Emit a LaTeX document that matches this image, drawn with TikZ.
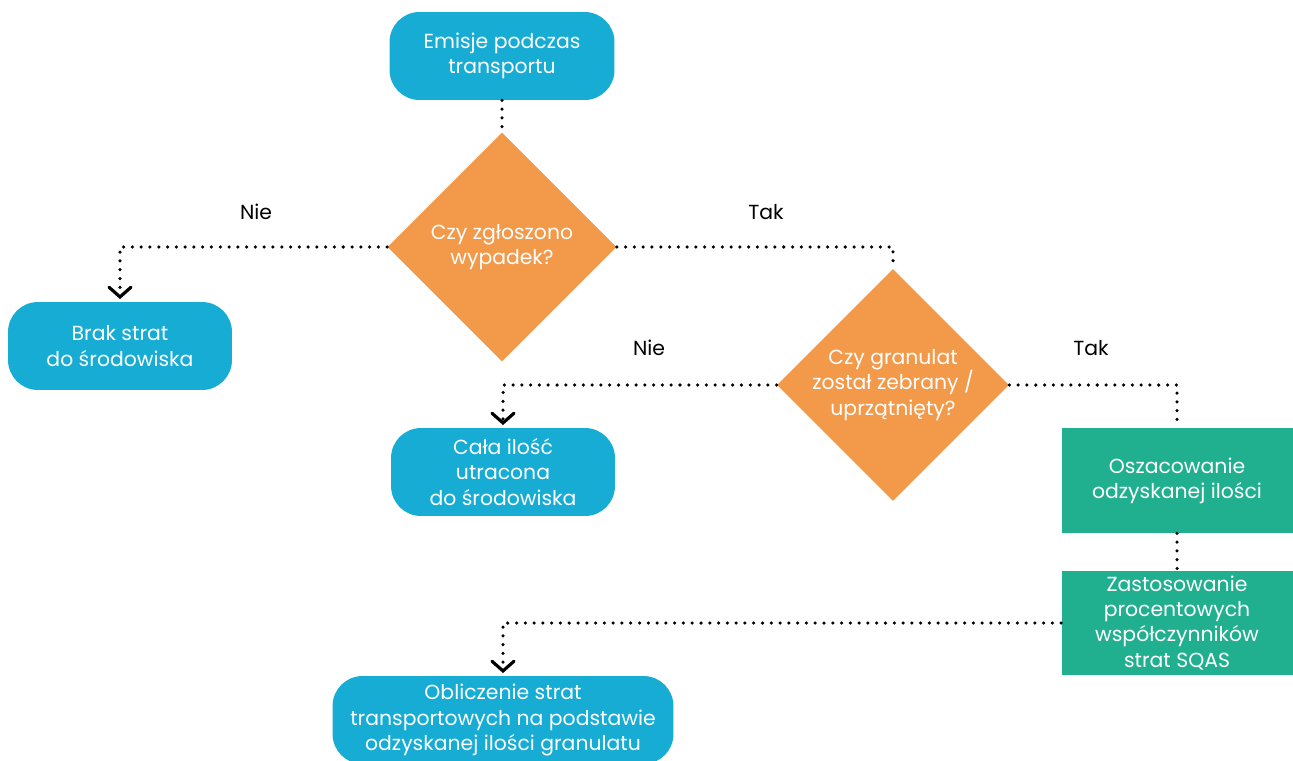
\documentclass[tikz,border=0pt]{standalone}
\usepackage{fontspec}
\setmainfont{Poppins}
\usepackage{xcolor}
\usetikzlibrary{arrows.meta, positioning, shapes.geometric}

\definecolor{boxblue}{RGB}{22,172,212}
\definecolor{decorange}{RGB}{242,153,74}
\definecolor{stepgreen}{RGB}{33,176,143}

\begin{document}
\begin{tikzpicture}[
  x=0.02cm, y=-0.02cm,
  endbox/.style={rectangle, rounded corners=0.6cm, fill=boxblue, text=white, align=center, minimum width=4.5cm, minimum height=1.76cm, inner sep=2pt, font=\fontsize{11.6}{14.3}\selectfont},
  question/.style={diamond, aspect=1, fill=decorange, text=white, align=center, minimum width=4.58cm, minimum height=4.58cm, inner sep=0pt, font=\fontsize{11.6}{14.3}\selectfont},
  task/.style={rectangle, fill=stepgreen, text=white, align=center, minimum width=4.62cm, minimum height=2.1cm, inner sep=2pt, font=\fontsize{11.6}{14.3}\selectfont},
  answer/.style={font=\fontsize{11.6}{14.3}\selectfont, text=black},
  flow/.style={black, line width=2pt, dash pattern=on 0pt off 5pt, line cap=round},
  flowarr/.style={flow, -{Straight Barb[length=5.5pt, width=12.5pt, line width=1.8pt, line cap=round]}, shorten >=1.5pt}
]
\useasboundingbox (0,0) rectangle (1293,760);
\clip (0,0) rectangle (1293,760);

%  : -- Start  : --
\node[endbox] (emisje) at (502,56) {Emisje podczas\\transportu};

%  : -- First question  : --
\node[question] (q1) at (502,247) {Czy zgłoszono\\wypadek?};
\node[endbox, minimum width=4.48cm] (brak) at (120,346) {Brak strat\\do środowiska};
\node[answer] (nie1) at (256,212) {Nie};
\node[answer] (tak1) at (766,212) {Tak};

%  : -- Second question  : --
\node[question, minimum width=4.58cm, minimum height=4.52cm] (q2) at (893,385) {Czy granulat\\został zebrany /\\uprzątnięty?};
\node[endbox, minimum width=4.48cm] (cala) at (503,472) {Cała ilość\\utracona\\do środowiska};
\node[answer] (nie2) at (649,348) {Nie};
\node[answer] (tak2) at (1091,348) {Tak};

%  : -- Recovered amount  : --
\node[task] (oszac) at (1177,480.5) {Oszacowanie\\odzyskanej ilości};
\node[task] (zastos) at (1177,623) {Zastosowanie\\procentowych\\współczynników\\strat SQAS};
\node[endbox, minimum width=6.82cm] (oblicz) at (503,720) {Obliczenie strat\\transportowych na podstawie\\odzyskanej ilości granulatu};

%  : -- Connectors  : --
\draw[flow] (emisje.south) -- (q1.north);
\draw[flowarr] (q1.west) -| (brak.north);
\draw[flow] (q1.east) -| (q2.north);
\draw[flowarr] (q2.west) -| (cala.north);
\draw[flow] (q2.east) -| (oszac.north);
\draw[flow] (oszac.south) -- (zastos.north);
\draw[flowarr] (zastos.west) -| (oblicz.north);

\end{tikzpicture}
\end{document}
